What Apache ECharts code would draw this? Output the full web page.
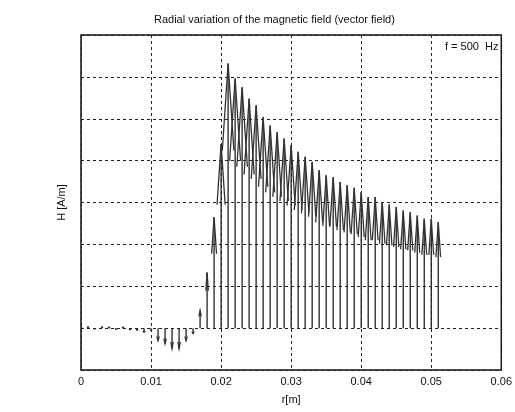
<!DOCTYPE html>
<html>
<head>
<meta charset="utf-8">
<script src="https://cdn.jsdelivr.net/npm/echarts@6/dist/echarts.min.js"></script>
<style>
  html, body { margin: 0; padding: 0; background: #fff; }
  #main { width: 515px; height: 412px; }
</style>
</head>
<body>
<div id="main"></div>
<script>
// radial positions (m), one arrow every mm
var rValues = [
    0.000, 0.001, 0.002, 0.003, 0.004, 0.005, 0.006, 0.007, 0.008, 0.009,
    0.010, 0.011, 0.012, 0.013, 0.014, 0.015, 0.016, 0.017, 0.018, 0.019,
    0.020, 0.021, 0.022, 0.023, 0.024, 0.025, 0.026, 0.027, 0.028, 0.029,
    0.030, 0.031, 0.032, 0.033, 0.034, 0.035, 0.036, 0.037, 0.038, 0.039,
    0.040, 0.041, 0.042, 0.043, 0.044, 0.045, 0.046, 0.047, 0.048, 0.049,
    0.050, 0.051
];
// vertical component of H (in grid units, axis has no labels)
var hValues = [
    0.02, 0.03, -0.02, 0.03, 0.02, -0.03, 0.02, -0.04, -0.05, -0.10,
    -0.05, -0.30, -0.37, -0.49, -0.49, -0.30, -0.13, 0.42, 1.33, 2.65,
    4.40, 6.32, 5.96, 5.75, 5.48, 5.32, 5.04, 4.84, 4.68, 4.53,
    4.37, 4.21, 4.09, 3.97, 3.77, 3.65, 3.61, 3.49, 3.41, 3.35,
    3.25, 3.13, 3.13, 3.01, 2.95, 2.89, 2.81, 2.77, 2.69, 2.61,
    2.61, 2.53
];
var xTicks = [0, 0.01, 0.02, 0.03, 0.04, 0.05, 0.06];
var xTickLabels = ['0', '0.01', '0.02', '0.03', '0.04', '0.05', '0.06'];

var arrows = rValues.map(function(r, i) { return [r, hValues[i]]; });

var chart = echarts.init(document.getElementById('main'));

// quiver-style arrow: shaft from zero up (or down) to the value, narrow head at the tip
function drawArrow(params, api) {
    var r = api.value(0), h = api.value(1);
    var base = api.coord([r, 0]);
    var tip = api.coord([r, h]);
    var len = base[1] - tip[1];
    var hl = 0.33 * len;
    var hw = Math.max(1.2, 0.022 * Math.abs(len));
    var hy = tip[1] + hl;
    return {
        type: 'group',
        children: [
            {
                type: 'line',
                shape: { x1: base[0], y1: base[1], x2: tip[0], y2: tip[1] },
                style: { stroke: '#222', lineWidth: 1.3 }
            },
            {
                type: 'polyline',
                shape: { points: [[tip[0] - hw, hy], [tip[0], tip[1]], [tip[0] + hw, hy]] },
                style: { stroke: '#333', fill: null, lineWidth: 1.3 }
            }
        ]
    };
}

var gridDash = { color: '#222', width: 1, type: [3, 3] };

chart.setOption({
    backgroundColor: '#fff',
    animation: false,
    textStyle: { fontFamily: 'Liberation Sans' },
    grid: {
        left: 81, right: 10, top: 35, bottom: 42,
        show: true, borderColor: '#111', borderWidth: 1.5
    },
    xAxis: {
        type: 'value',
        min: 0, max: 0.06, interval: 0.01,
        name: 'r[m]',
        nameLocation: 'middle',
        nameGap: 24,
        nameTextStyle: { color: '#111', fontSize: 11 },
        axisLine: { show: false },
        axisTick: { show: false },
        axisLabel: {
            color: '#111', fontSize: 11, margin: 6,
            formatter: function(v) {
                var k = xTicks.findIndex(function(t) { return Math.abs(t - v) < 1e-9; });
                return k >= 0 ? xTickLabels[k] : '';
            }
        },
        splitLine: { show: true, lineStyle: gridDash }
    },
    yAxis: {
        type: 'value',
        min: -1, max: 7, interval: 1,
        name: 'H [A/m]',
        nameLocation: 'middle',
        nameGap: 14,
        nameRotate: 90,
        nameTextStyle: { color: '#111', fontSize: 11 },
        axisLine: { show: false },
        axisTick: { show: false },
        axisLabel: { show: false },
        splitLine: { show: true, lineStyle: gridDash }
    },
    graphic: [
        {
            type: 'text', left: 154, top: 14,
            style: {
                text: 'Radial variation of the magnetic field (vector field)',
                font: '11px "Liberation Sans"', fill: '#111'
            }
        },
        {
            type: 'text', left: 445, top: 41,
            style: { text: 'f = 500  Hz', font: '11px "Liberation Sans"', fill: '#111' }
        }
    ],
    series: [{
        type: 'custom',
        renderItem: drawArrow,
        data: arrows,
        clip: true,
        silent: true
    }]
});
</script>
</body>
</html>
